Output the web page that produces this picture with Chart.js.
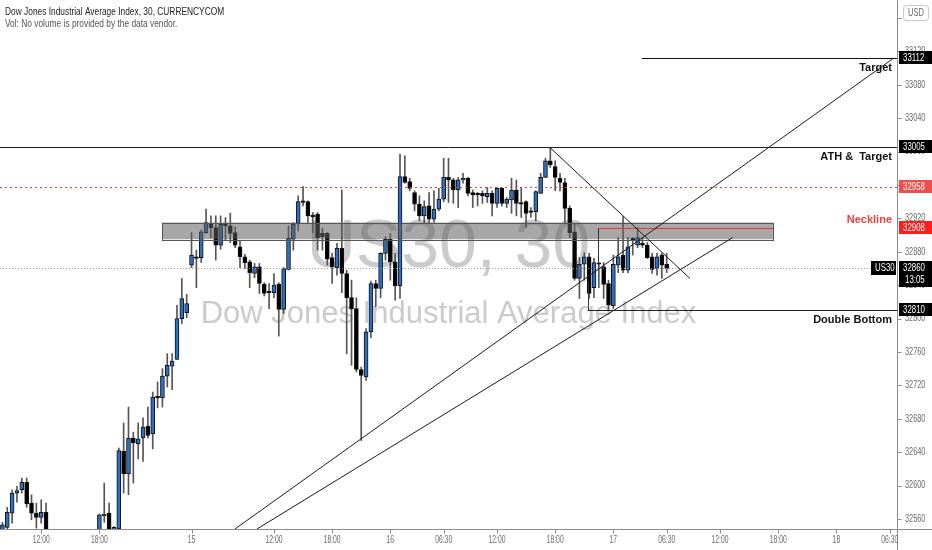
<!DOCTYPE html>
<html>
<head>
<meta charset="utf-8">
<script src="https://cdn.jsdelivr.net/npm/chart.js@4.4.1/dist/chart.umd.min.js"></script>
<style>
  html, body { margin: 0; padding: 0; background: #fff; }
  #wrap { width: 932px; height: 550px; }
</style>
</head>
<body>
<div id="wrap"><canvas id="c" width="932" height="550"></canvas></div>
<script>
/* US30 30-minute candles */

const opens = [32538,32550,32567,32591,32595,32604,32579,32567,32562,32568,
  32530,32512,32522,32505,32490,32505,32515,32508,32525,32520,
  32530,32564,32567,32545,32548,32641,32614,32657,32650,32657,
  32671,32662,32707,32705,32731,32743,32751,32800,32807,32864,
  32874,32873,32903,32914,32909,32888,32914,32911,32903,32886,
  32874,32868,32854,32862,32841,32832,32831,32841,32811,32859,
  32895,32914,32941,32940,32924,32925,32902,32902,32873,32861,
  32884,32854,32825,32812,32739,32730,32784,32842,32836,32878,
  32895,32868,32839,32970,32964,32951,32937,32923,32935,32919,
  32931,32943,32969,32966,32954,32966,32968,32951,32950,32950,
  32946,32950,32938,32956,32938,32942,32954,32939,32940,32929,
  32928,32950,32969,32989,32982,32968,32963,32932,32904,32848,
  32865,32874,32837,32866,32862,32842,32815,32864,32876,32858,
  32896,32888,32890,32888,32874,32860,32876,32865];
const highs = [32556,32574,32595,32599,32609,32609,32589,32579,32583,32579,
  32540,32530,32538,32520,32512,32525,32535,32530,32540,32538,
  32566,32603,32579,32551,32645,32675,32694,32664,32675,32681,
  32694,32712,32724,32740,32758,32758,32816,32848,32829,32903,
  32882,32906,32931,32923,32923,32923,32921,32926,32910,32893,
  32877,32870,32866,32866,32843,32842,32854,32843,32861,32911,
  32915,32947,32958,32941,32927,32927,32908,32903,32878,32890,
  32954,32858,32846,32825,32742,32788,32845,32846,32879,32898,
  32902,32878,32997,32995,32968,32953,32947,32941,32951,32953,
  32956,32992,32992,32968,32969,32974,32969,32954,32951,32953,
  32957,32953,32957,32957,32945,32968,32966,32956,32941,32933,
  32953,32974,32992,33005,32989,32974,32968,32935,32914,32873,
  32879,32878,32872,32867,32867,32846,32876,32897,32922,32897,
  32897,32909,32897,32891,32878,32878,32878,32878];
const lows = [32525,32540,32555,32580,32591,32574,32559,32549,32555,32520,
  32505,32495,32500,32480,32478,32495,32500,32495,32505,32510,
  32520,32556,32535,32538,32540,32591,32589,32603,32632,32629,
  32657,32644,32693,32694,32718,32715,32751,32794,32801,32861,
  32837,32867,32902,32897,32870,32883,32894,32891,32885,32861,
  32860,32837,32849,32830,32827,32812,32825,32779,32806,32858,
  32882,32905,32935,32915,32903,32882,32882,32864,32842,32852,
  32831,32758,32744,32736,32654,32726,32777,32814,32825,32870,
  32846,32822,32824,32962,32953,32929,32917,32914,32915,32915,
  32929,32940,32939,32938,32933,32962,32947,32933,32935,32938,
  32939,32923,32933,32935,32933,32926,32923,32921,32909,32921,
  32917,32950,32969,32981,32953,32953,32915,32897,32846,32824,
  32846,32824,32825,32837,32824,32810,32812,32855,32855,32855,
  32876,32885,32885,32872,32854,32852,32848,32855];
const closes = [32553,32568,32591,32594,32604,32578,32567,32562,32568,32530,
  32512,32522,32505,32490,32505,32515,32508,32525,32520,32530,
  32565,32565,32545,32550,32642,32614,32657,32651,32656,32670,
  32660,32706,32705,32731,32744,32749,32800,32824,32818,32876,
  32872,32904,32915,32909,32888,32913,32911,32902,32888,32874,
  32867,32855,32862,32842,32830,32831,32840,32811,32860,32896,
  32913,32940,32939,32923,32922,32897,32898,32871,32862,32884,
  32854,32825,32812,32739,32732,32784,32842,32836,32878,32895,
  32868,32839,32970,32963,32956,32937,32923,32934,32919,32931,
  32943,32969,32966,32954,32966,32967,32950,32948,32948,32947,
  32950,32938,32956,32938,32943,32954,32938,32937,32926,32927,
  32952,32969,32989,32984,32969,32963,32932,32903,32848,32865,
  32874,32830,32867,32865,32841,32816,32865,32874,32858,32886,
  32894,32897,32888,32873,32859,32874,32864,32860];

// time axis: 185 half-hour slots, labels only where the screenshot has them
const SLOTS = 185;
const xTickPos  = [8, 20, 39, 56, 68, 80, 91, 102, 114, 126, 137, 148, 160, 172, 183];
const xTickText = ['12:00','18:00','15','12:00','18:00','16','06:30','12:00','18:00','17','06:30','12:00','18:00','18','06:30'];
const yTicks = [32560,32600,32640,32680,32720,32760,32800,32840,32880,32920,32960,33000,33040,33080,33120,33160];

// drawings, in [slot, price]
const zone = { from: 32.9, to: 158.9, top: 32915, bottom: 32895 };
const trendLines = [
  [[47.96, 32548], [183.6, 33111]],
  [[52.5, 32548], [150.6, 32897]],
  [[112.9, 33005], [141.8, 32848]]
];
const levels = [
  { price: 33112, from: 131.9, color: '#111', dash: [], text: 'Target', pos: 'below', tcolor: '#111' },
  { price: 33005, from: -1, color: '#222', dash: [], text: 'ATH &  Target', pos: 'below', tcolor: '#111' },
  { price: 32958, from: -1, color: '#e53935', dash: [2, 3], text: '', pos: '', tcolor: '' },
  { price: 32908, from: 122.8, to: 158.9, color: '#e53935', dash: [], text: 'Neckline', pos: 'above', tcolor: '#f0403a', drop: 32862 },
  { price: 32860, from: -1, color: '#9a9a9a', dash: [1, 2], text: '', pos: '', tcolor: '' },
  { price: 32810, from: 120.7, color: '#222', dash: [], text: 'Double Bottom', pos: 'below', tcolor: '#111', drop: 32845 }
];
const priceTags = [
  { price: 33112, text: '33112', bg: '#000' },
  { price: 33005, text: '33005', bg: '#000' },
  { price: 32958, text: '32958', bg: '#ef4f4a' },
  { price: 32908, text: '32908', bg: '#ff1e1e' },
  { price: 32810, text: '32810', bg: '#000' },
  { price: 32860, text: '32860', bg: '#000', sub: '13:05' }
];

const BLUE = '#2f6fc2';
const FONT = '"Liberation Sans", Arial, sans-serif';
const up = closes.map((c, i) => c >= opens[i]);

// the screenshot's small text is horizontally squeezed
function squeezed(ctx, text, x, y, sx) {
  ctx.save();
  ctx.translate(x, y);
  ctx.scale(sx, 1);
  ctx.fillText(text, 0, 0);
  ctx.restore();
}

const overlay = {
  id: 'overlay',
  beforeDatasetsDraw(chart) {
    const { ctx, chartArea: a } = chart;
    const cx = (a.left + a.right) / 2;
    ctx.save();
    ctx.fillStyle = '#cbcbcb';
    ctx.textAlign = 'center';
    ctx.textBaseline = 'alphabetic';
    ctx.font = '68px ' + FONT;
    ctx.fillText('US30, 30', cx, 267);
    ctx.font = '31px ' + FONT;
    ctx.fillText('Dow Jones Industrial Average Index', cx, 323);
    ctx.restore();
  },
  afterDatasetsDraw(chart) {
    const { ctx, chartArea: a, scales: { x, y } } = chart;
    ctx.save();
    ctx.beginPath();
    ctx.rect(a.left, a.top, a.right - a.left, a.bottom - a.top);
    ctx.clip();

    // grey resistance box
    const zx0 = x.getPixelForValue(zone.from), zx1 = x.getPixelForValue(zone.to);
    const zy0 = y.getPixelForValue(zone.top), zy1 = y.getPixelForValue(zone.bottom);
    ctx.fillStyle = 'rgba(95,95,95,0.55)';
    ctx.fillRect(zx0, zy0, zx1 - zx0, zy1 - zy0);
    ctx.strokeStyle = '#555';
    ctx.lineWidth = 1;
    ctx.strokeRect(Math.round(zx0) + 0.5, Math.round(zy0) + 0.5, Math.round(zx1 - zx0), Math.round(zy1 - zy0));

    // horizontal levels
    levels.forEach(l => {
      const py = Math.round(y.getPixelForValue(l.price)) + 0.5;
      const x0 = l.from < 0 ? a.left : x.getPixelForValue(l.from);
      const x1 = l.to ? x.getPixelForValue(l.to) : a.right;
      ctx.strokeStyle = l.color;
      ctx.lineWidth = 1;
      ctx.setLineDash(l.dash);
      ctx.beginPath();
      ctx.moveTo(x0, py);
      ctx.lineTo(x1, py);
      ctx.stroke();
      ctx.setLineDash([]);
      if (l.drop) {
        ctx.strokeStyle = '#333';
        ctx.beginPath();
        ctx.moveTo(Math.round(x0) + 0.5, py);
        ctx.lineTo(Math.round(x0) + 0.5, y.getPixelForValue(l.drop));
        ctx.stroke();
      }
    });

    // trend lines
    ctx.strokeStyle = '#1a1a1a';
    ctx.lineWidth = 1;
    trendLines.forEach(seg => {
      ctx.beginPath();
      ctx.moveTo(x.getPixelForValue(seg[0][0]), y.getPixelForValue(seg[0][1]));
      ctx.lineTo(x.getPixelForValue(seg[1][0]), y.getPixelForValue(seg[1][1]));
      ctx.stroke();
    });
    ctx.restore();

    // labels on the drawings
    ctx.save();
    ctx.font = 'bold 11px ' + FONT;
    ctx.textAlign = 'right';
    levels.forEach(l => {
      if (!l.text) return;
      const py = y.getPixelForValue(l.price);
      ctx.fillStyle = l.tcolor;
      if (l.pos === 'below') { ctx.textBaseline = 'top'; ctx.fillText(l.text, a.right - 5, py + 4); }
      else { ctx.textBaseline = 'bottom'; ctx.fillText(l.text, a.right - 5, py - 3); }
    });
    ctx.restore();
  },
  afterDraw(chart) {
    const { ctx, chartArea: a, scales: { x, y } } = chart;
    const R = Math.round(a.right) + 0.5, B = Math.round(a.bottom) + 0.5;
    ctx.save();
    // axis frame and tick marks
    ctx.strokeStyle = '#8c8c8c';
    ctx.lineWidth = 1;
    ctx.beginPath();
    ctx.moveTo(R, 0);
    ctx.lineTo(R, chart.height);
    ctx.moveTo(0, B);
    ctx.lineTo(chart.width, B);
    yTicks.forEach(v => {
      const py = Math.round(y.getPixelForValue(v)) + 0.5;
      ctx.moveTo(R, py); ctx.lineTo(R + 4, py);
    });
    xTickPos.forEach(i => {
      const px = Math.round(x.getPixelForValue(i)) + 0.5;
      ctx.moveTo(px, B); ctx.lineTo(px, B + 4);
    });
    ctx.stroke();

    // axis labels
    ctx.fillStyle = '#6a6a6a';
    ctx.font = '10.5px ' + FONT;
    ctx.textBaseline = 'middle';
    ctx.textAlign = 'left';
    yTicks.forEach(v => squeezed(ctx, String(v), a.right + 8, y.getPixelForValue(v), 0.7));
    ctx.textAlign = 'center';
    ctx.font = '10px ' + FONT;
    xTickPos.forEach((i, k) => squeezed(ctx, xTickText[k], x.getPixelForValue(i), a.bottom + 11, 0.68));

    // price tags
    ctx.font = '10.5px ' + FONT;
    ctx.textAlign = 'left';
    priceTags.forEach(t => {
      const py = Math.round(y.getPixelForValue(t.price));
      const h = t.sub ? 26 : 13;
      ctx.fillStyle = t.bg;
      ctx.fillRect(a.right + 2, py - 7, chart.width - a.right - 2, h);
      ctx.fillStyle = '#fff';
      squeezed(ctx, t.text, a.right + 6, py, 0.75);
      if (t.sub) squeezed(ctx, t.sub, a.right + 8, py + 12, 0.75);
    });
    // symbol tag
    const py = Math.round(y.getPixelForValue(closes[closes.length - 1]));
    ctx.fillStyle = '#000';
    ctx.fillRect(a.right - 26, py - 7, 25, 14);
    ctx.fillStyle = '#fff';
    squeezed(ctx, 'US30', a.right - 22, py, 0.75);

    // currency box
    ctx.fillStyle = '#fff';
    ctx.strokeStyle = '#c8c8c8';
    ctx.beginPath();
    ctx.roundRect(a.right + 6.5, 5.5, 25, 15, 3);
    ctx.fill();
    ctx.stroke();
    ctx.fillStyle = '#666';
    ctx.font = '10px ' + FONT;
    ctx.textAlign = 'center';
    squeezed(ctx, 'USD', a.right + 19, 13, 0.75);

    // legend
    ctx.textAlign = 'left';
    ctx.fillStyle = '#222';
    ctx.font = '11px ' + FONT;
    squeezed(ctx, 'Dow Jones Industrial Average Index, 30, CURRENCYCOM', 5, 12, 0.76);
    ctx.fillStyle = '#555';
    squeezed(ctx, 'Vol: No volume is provided by the data vendor.', 5, 24, 0.76);
    ctx.restore();
  }
};

new Chart(document.getElementById('c'), {
  type: 'bar',
  data: {
    labels: Array.from({ length: SLOTS }, (_, i) => i),
    datasets: [
      {
        label: 'Body',
        data: opens.map((o, i) => [o, closes[i]]),
        backgroundColor: up.map(u => u ? BLUE : '#000'),
        borderColor: '#111',
        borderWidth: 1,
        borderSkipped: false,
        barThickness: 4,
        minBarLength: 1.5,
        grouped: false,
        order: 1
      },
      {
        label: 'Wick',
        data: lows.map((l, i) => [l, highs[i]]),
        backgroundColor: '#555',
        barThickness: 1,
        grouped: false,
        order: 2
      }
    ]
  },
  options: {
    responsive: false,
    animation: false,
    layout: { padding: 0 },
    plugins: { legend: { display: false }, tooltip: { enabled: false } },
    scales: {
      x: {
        offset: true,
        grid: { display: false },
        border: { display: false },
        ticks: { display: false },
        afterFit: s => { s.height = 21; }
      },
      y: {
        position: 'right',
        min: 32548,
        max: 33181.5,
        grid: { display: false },
        border: { display: false },
        ticks: { display: false },
        afterFit: s => { s.width = 35; }
      }
    }
  },
  plugins: [overlay]
});
</script>
</body>
</html>
